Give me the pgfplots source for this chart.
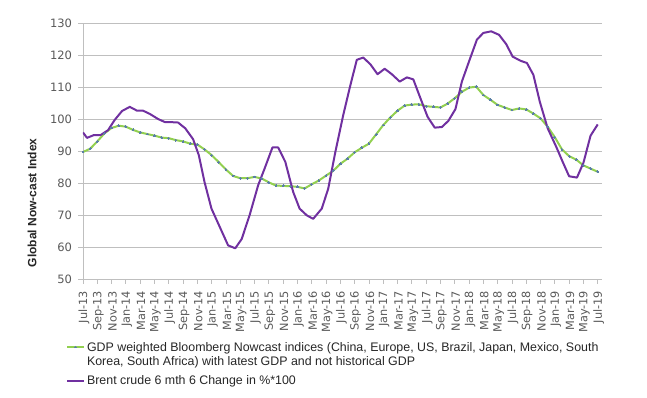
\documentclass[border=0pt]{standalone}
\usepackage{pgfplots}
\pgfplotsset{compat=1.18}
\usepackage{fontspec}
\setmainfont{Liberation Sans}
\newfontfamily\tickfont{DejaVu Sans}
\definecolor{nowgreen}{HTML}{92D050}
\definecolor{nowmark}{HTML}{5B7FA6}
\definecolor{brent}{HTML}{7030A0}
\definecolor{gridc}{HTML}{BFBFBF}
\definecolor{tickc}{HTML}{595959}
\definecolor{txtc}{HTML}{262626}
\begin{document}
\begin{tikzpicture}
\path[use as bounding box] (-83pt,-118pt) rectangle (564pt,279pt);
\begin{axis}[
  at={(0pt,0pt)}, anchor=south west,
  scale only axis, width=519pt, height=256pt,
  xmin=0, xmax=72.6, ymin=50, ymax=130,
  axis x line=bottom, axis y line=left,
  axis line style={draw=gridc, line width=0.8pt, -},
  ytick={50,60,...,130},
  xtick={0,2,...,72},
  xticklabels={Jul-13,Sep-13,Nov-13,Jan-14,Mar-14,May-14,Jul-14,Sep-14,Nov-14,Jan-15,Mar-15,May-15,Jul-15,Sep-15,Nov-15,Jan-16,Mar-16,May-16,Jul-16,Sep-16,Nov-16,Jan-17,Mar-17,May-17,Jul-17,Sep-17,Nov-17,Jan-18,Mar-18,May-18,Jul-18,Sep-18,Nov-18,Jan-19,Mar-19,May-19,Jul-19},
  ymajorgrids, grid style={draw=gridc, line width=0.8pt},
  tick align=outside, major tick length=4.5pt,
  tick style={draw=gridc, line width=0.8pt},
  /pgf/number format/assume math mode=true,
  yticklabel style={font=\tickfont\fontsize{11.5}{13}\selectfont, text=tickc, anchor=east, xshift=-3pt},
  xticklabel style={font=\tickfont\fontsize{11.3}{13}\selectfont, text=tickc, rotate=90, anchor=east, xshift=-4pt, yshift=-1pt},
  ylabel={Global Now-cast Index},
  every axis y label/.style={at={(axis description cs:0,0.297)}, xshift=-51pt, rotate=90, anchor=center,
    font=\bfseries\fontsize{12}{14}\selectfont, text=txtc},
  legend style={at={(axis description cs:-0.033,-0.235)}, anchor=north west, draw=none, fill=none, inner sep=0pt,
    font=\fontsize{12.4}{14}\selectfont, text=txtc, cells={anchor=west}, row sep=19pt},
  legend cell align=left,
  legend image code/.code={\draw[mark repeat=2,mark phase=2,#1] plot coordinates {(0pt,0pt) (8.5pt,0pt) (17pt,0pt)};},
]
\addplot[color=nowgreen, line width=2pt, mark=*, mark size=0.9pt, mark options={fill=nowmark, draw=nowmark, line width=0pt}] coordinates {
(0,89.7)(1,90.7)(2,93.0)(3,95.5)(4,97.2)(5,97.9)(6,97.6)(7,96.6)(8,95.8)(9,95.3)
(10,94.8)(11,94.2)(12,94.0)(13,93.4)(14,93.0)(15,92.3)(16,92.0)(17,90.5)(18,88.7)(19,86.5)
(20,84.2)(21,82.2)(22,81.5)(23,81.5)(24,81.9)(25,81.4)(26,80.2)(27,79.2)(28,79.1)(29,79.0)
(30,78.8)(31,78.3)(32,79.6)(33,80.8)(34,82.3)(35,83.8)(36,86.0)(37,87.6)(38,89.6)(39,91.0)
(40,92.3)(41,95.2)(42,98.1)(43,100.5)(44,102.6)(45,104.2)(46,104.5)(47,104.6)(48,104.0)(49,103.8)
(50,103.6)(51,104.8)(52,106.5)(53,108.5)(54,109.8)(55,110.1)(56,107.5)(57,106.0)(58,104.4)(59,103.6)
(60,102.8)(61,103.3)(62,103.0)(63,101.7)(64,100.2)(65,97.6)(66,94.3)(67,90.5)(68,88.4)(69,87.3)
(70,85.5)(71,84.5)(72,83.5)
};
\addlegendentry{\begin{tabular}[t]{@{}l@{}}GDP weighted Bloomberg Nowcast indices (China, Europe, US, Brazil, Japan, Mexico, South\\Korea, South Africa) with latest GDP and not historical GDP\end{tabular}}
\addplot[color=brent, line width=2pt, no marks, line join=round] coordinates {
(0,95.8)(0.56,94.1)(1.54,95.0)(2.47,95.0)(3.5,96.5)(4.43,99.7)(5.46,102.5)(6.54,103.8)(7.56,102.6)(8.4,102.6)
(9.34,101.6)(10.5,100.0)(11.5,99.0)(12.5,99.0)(13.3,98.9)(14.3,97.1)(15.4,93.7)(16.2,88.7)(17.0,80.3)(17.97,72.0)
(20.3,60.5)(21.3,59.6)(22.2,62.5)(23.3,69.9)(24.5,79.3)(25.4,84.5)(26.5,91.1)(27.3,91.1)(28.3,86.6)(29.4,77.2)
(30.3,72.0)(31.3,69.9)(32.2,68.8)(33.4,72.0)(34.3,78.2)(35.3,89.7)(36.4,101.2)(37.35,110.1)(38.3,118.5)(39.2,119.2)
(40.2,117.1)(41.2,114.0)(42.2,115.7)(43.2,114.0)(44.3,111.7)(45.3,113.0)(46.2,112.4)(47.2,106.5)(48.2,100.7)(49.2,97.3)
(50.2,97.5)(51.1,99.4)(52.1,103.1)(53.0,111.7)(54.0,118.0)(55.1,124.8)(56.0,126.9)(57.1,127.4)(58.2,126.3)(59.2,123.4)
(60.1,119.5)(61.2,118.2)(62.1,117.5)(63.0,113.8)(63.9,105.4)(65.0,97.1)(66.2,91.3)(67.1,86.6)(68.0,82.1)(69.1,81.7)
(70.0,86.3)(71.0,94.8)(72.0,98.3)
};
\addlegendentry{Brent crude 6 mth 6 Change in \%*100}
\end{axis}
\end{tikzpicture}
\end{document}
